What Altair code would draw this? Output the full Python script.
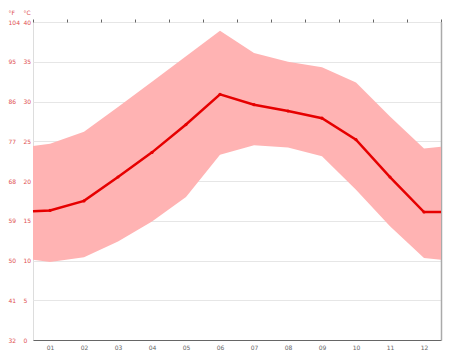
import altair as alt
import pandas as pd

# x positions: month centres 1..12 plus half-month edges
x_pos = [0.5, 1, 2, 3, 4, 5, 6, 7, 8, 9, 10, 11, 12, 12.5]
mean_c = [16.2, 16.3, 17.5, 20.5, 23.6, 27.1, 30.9, 29.6, 28.8, 27.9, 25.2, 20.5, 16.1, 16.1]
upper_c = [24.4, 24.7, 26.2, 29.3, 32.5, 35.7, 38.9, 36.1, 35.0, 34.3, 32.4, 28.1, 24.1, 24.3]
lower_c = [10.1, 9.8, 10.4, 12.4, 14.9, 18.0, 23.3, 24.5, 24.2, 23.1, 18.9, 14.3, 10.3, 10.1]
is_month = [False] + [True] * 12 + [False]
month_ticks = list(range(1, 13))
edge_ticks = [m - 0.5 for m in range(1, 14)]
y_ticks = [0, 5, 10, 15, 20, 25, 30, 35, 40]

df = pd.DataFrame({"x": x_pos, "mean": mean_c, "upper": upper_c,
                   "lower": lower_c, "m": is_month})

xscale = alt.Scale(domain=[0.5, 12.5], nice=False, zero=False)
yscale = alt.Scale(domain=[0, 40], nice=False)
lab_col = "#e05050"
FONT = "DejaVu Sans"

area = alt.Chart(df).mark_area(color="#ffb3b3", opacity=1).encode(
    x=alt.X("x:Q", scale=xscale, axis=alt.Axis(
        values=month_ticks,
        labelExpr="datum.value < 10 ? '0' + datum.value : '' + datum.value",
        ticks=False, grid=False, domain=True, domainColor="#666",
        labelFontSize=6, labelColor="#666", labelPadding=4, title=None,
        labelFont=FONT)),
    y=alt.Y("lower:Q", scale=yscale, axis=alt.Axis(
        orient="left", values=y_ticks, grid=True, gridColor="#e6e6e6",
        domain=False, ticks=False, tickSize=0, labelAlign="left",
        labelBaseline="middle", labelPadding=10, labelFontSize=6,
        labelColor=lab_col, labelFont=FONT, title="°C", titleAngle=0,
        titleX=-10, titleY=-10, titleAlign="left", titleBaseline="middle",
        titleFontSize=6, titleFontWeight="normal", titleColor=lab_col,
        titleFont=FONT)),
    y2="upper:Q",
)

line = alt.Chart(df).mark_line(color="#e60000", strokeWidth=2.5).encode(
    x=alt.X("x:Q", scale=xscale, axis=alt.Axis(
        values=edge_ticks, labels=False, ticks=True, tickSize=3,
        tickColor="#666", domain=False, grid=False, title=None)),
    y=alt.Y("mean:Q", scale=yscale, axis=alt.Axis(
        orient="left", values=y_ticks, grid=False, domain=False, ticks=False,
        tickSize=0, labelAlign="left", labelBaseline="middle",
        labelPadding=25, labelFontSize=6, labelColor=lab_col, labelFont=FONT,
        labelExpr="round(datum.value * 9 / 5 + 32)", title="°F",
        titleAngle=0, titleX=-25, titleY=-10, titleAlign="left",
        titleBaseline="middle", titleFontSize=6, titleFontWeight="normal",
        titleColor=lab_col, titleFont=FONT)),
)

points = alt.Chart(df).transform_filter("datum.m").mark_point(
    filled=True, color="#e60000", size=10, opacity=1).encode(
    x=alt.X("x:Q", scale=xscale, axis=None),
    y=alt.Y("mean:Q", scale=yscale, axis=alt.Axis(
        orient="right", labels=False, ticks=False, grid=False, domain=True,
        domainColor="#aaaaaa", domainWidth=1.5, title=None)),
)

chart = alt.layer(area, line, points).resolve_axis(
    x="independent", y="independent"
).properties(
    width=408, height=318,
    autosize=alt.AutoSizeParams(type="none"),
    padding={"left": 33, "top": 22, "right": 33, "bottom": 15},
).configure_view(stroke=None).configure(background="white")

chart.save("out.html", embed_options={"renderer": "svg", "actions": False})
